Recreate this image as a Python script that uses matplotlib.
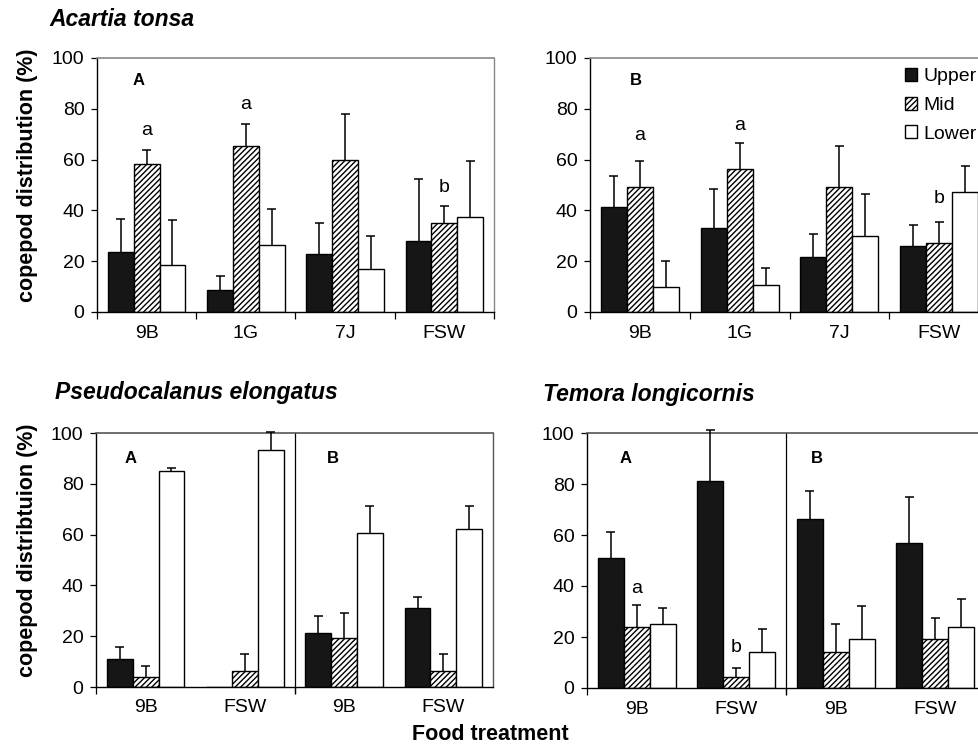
import numpy as np
import matplotlib
matplotlib.use("Agg")
from matplotlib import pyplot as plt
from matplotlib.patches import Patch

plt.rcParams['font.family'] = ['Liberation Sans', 'DejaVu Sans']
plt.rcParams['hatch.linewidth'] = 1.0

layers = ['Upper', 'Mid', 'Lower']

# Acartia tonsa
acartia_foods = ['9B', '1G', '7J', 'FSW']
acartia_A = [[23.5, 8.5, 22.8, 27.9],
             [58.2, 65.3, 60.0, 34.9],
             [18.7, 26.5, 16.9, 37.4]]
acartia_A_err = [[13.3, 5.8, 12.1, 24.4],
                 [5.6, 8.9, 18.1, 7.0],
                 [17.5, 14.1, 12.9, 22.0]]
acartia_A_letters = ['a', 'a', '', 'b']
acartia_A_letter_y = [71.5, 81.5, 0, 49]

acartia_B = [[41.5, 33.0, 21.5, 25.9],
             [49.1, 56.2, 49.1, 27.1],
             [9.8, 10.5, 29.8, 47.2]]
acartia_B_err = [[12.1, 15.5, 9.4, 8.2],
                 [10.3, 10.2, 16.2, 8.5],
                 [10.1, 6.9, 16.7, 10.3]]
acartia_B_letters = ['a', 'a', '', 'b']
acartia_B_letter_y = [69.5, 73.5, 0, 44.5]

# Pseudocalanus elongatus (A: 9B, FSW | B: 9B, FSW)
two_foods = ['9B', 'FSW', '9B', 'FSW']
pseudo = [[11.1, 0.0, 21.4, 31.2],
          [3.9, 6.4, 19.1, 6.4],
          [84.9, 93.3, 60.8, 62.1]]
pseudo_err = [[4.6, 0.0, 6.5, 4.3],
              [4.5, 6.5, 10.0, 6.5],
              [1.3, 7.2, 10.5, 9.2]]

# Temora longicornis
temora = [[51.0, 81.2, 66.4, 56.7],
          [23.9, 4.4, 14.2, 19.3],
          [25.1, 14.1, 19.3, 23.8]]
temora_err = [[10.0, 20.1, 10.7, 18.1],
              [8.8, 3.3, 10.9, 8.3],
              [6.4, 9.0, 12.9, 11.0]]
temora_letters = ['a', 'b', '', '']
temora_letter_y = [39, 16, 0, 0]

W, H = 979, 749
fig = plt.figure(figsize=(W / 100, H / 100), dpi=100)


def px_axes(l, t, r, b):
    return fig.add_axes([l / W, 1 - b / H, (r - l) / W, (b - t) / H])


face = ['#161616', 'white', 'white']
hatch = [None, '//////', None]
bw = 0.26
cap = 0.045


def draw(ax, vals, errs, labels, top_color, split=False):
    x = np.arange(len(labels)) + 0.5
    for i in range(3):
        xi = x + (i - 1) * bw
        v = np.array(vals[i])
        e = np.array(errs[i])
        ax.bar(xi, v, bw, color=face[i], edgecolor='black',
               linewidth=1.0, hatch=hatch[i], zorder=2)
        m = e > 0
        ax.vlines(xi[m], v[m], v[m] + e[m], color='black', lw=1.1,
                  zorder=3, clip_on=False)
        ax.hlines(v[m] + e[m], xi[m] - cap, xi[m] + cap, color='black',
                  lw=1.1, zorder=3, clip_on=False)
    ax.set_xlim(0, len(labels))
    ax.set_ylim(0, 100)
    ax.set_yticks([0, 20, 40, 60, 80, 100])
    ax.tick_params(axis='y', labelsize=14, length=4, width=0.9,
                   direction='out', pad=5)
    if split:
        ax.set_xticks([0, 2])
        ax.axvline(2, color='black', lw=0.9, ymin=-0.025, clip_on=False)
    else:
        ax.set_xticks(np.arange(len(labels) + 1))
    ax.set_xticks(x, labels, minor=True)
    ax.tick_params(axis='x', which='major', labelbottom=False, length=5,
                   width=0.9, direction='out')
    ax.tick_params(axis='x', which='minor', length=0, labelsize=14, pad=9)
    for s in ['left', 'bottom']:
        ax.spines[s].set_linewidth(1.0)
    ax.spines['top'].set_color(top_color)
    ax.spines['right'].set_color(top_color)
    ax.spines['top'].set_linewidth(1.2)
    ax.spines['right'].set_linewidth(1.0)
    return x


def letters(ax, x, lets, ys):
    for xi, t, y in zip(x, lets, ys):
        if t:
            ax.text(xi, y, t, ha='center', va='center', fontsize=14)


ax1 = px_axes(97, 58, 494, 312)
x = draw(ax1, acartia_A, acartia_A_err, acartia_foods, '#888888')
letters(ax1, x, acartia_A_letters, acartia_A_letter_y)
ax1.text(0.36, 91, 'A', fontsize=12, fontweight='bold', va='center')
ax1.set_ylabel('copepod distribution (%)', fontsize=15.5, fontweight='bold')
ax1.yaxis.set_label_coords(-0.148, 0.54)

ax2 = px_axes(590, 58, 989, 312)
x = draw(ax2, acartia_B, acartia_B_err, acartia_foods, '#888888')
letters(ax2, x, acartia_B_letters, acartia_B_letter_y)
ax2.text(0.4, 91, 'B', fontsize=12, fontweight='bold', va='center')
handles = [Patch(facecolor=face[i], edgecolor='black', hatch=hatch[i],
                 label=layers[i]) for i in range(3)]
ax2.legend(handles=handles, loc='upper left', bbox_to_anchor=(0.789, 0.96),
           frameon=False, fontsize=14, handlelength=0.65, handleheight=0.65,
           handletextpad=0.3, labelspacing=0.58, borderaxespad=0, borderpad=0)

ax3 = px_axes(96, 433, 493, 687)
draw(ax3, pseudo, pseudo_err, two_foods, '#555555', split=True)
ax3.text(0.29, 90, 'A', fontsize=12, fontweight='bold', va='center')
ax3.text(2.33, 90, 'B', fontsize=12, fontweight='bold', va='center')
ax3.set_ylabel('copepod distribtuion (%)', fontsize=15.5, fontweight='bold')
ax3.yaxis.set_label_coords(-0.145, 0.54)

ax4 = px_axes(587, 433, 985, 688)
x = draw(ax4, temora, temora_err, two_foods, '#555555', split=True)
letters(ax4, x, temora_letters, temora_letter_y)
ax4.text(0.33, 90, 'A', fontsize=12, fontweight='bold', va='center')
ax4.text(2.25, 90, 'B', fontsize=12, fontweight='bold', va='center')

fig.text(49 / W, 1 - 20 / H, 'Acartia tonsa', fontsize=16.5,
         fontweight='bold', fontstyle='italic', va='center')
fig.text(55 / W, 1 - 393 / H, 'Pseudocalanus elongatus', fontsize=16.5,
         fontweight='bold', fontstyle='italic', va='center')
fig.text(543 / W, 1 - 395 / H, 'Temora longicornis', fontsize=16.5,
         fontweight='bold', fontstyle='italic', va='center')
fig.text(490 / W, 1 - 735 / H, 'Food treatment', fontsize=15.5,
         fontweight='bold', ha='center', va='center')

fig.savefig('out.png', dpi=100)
